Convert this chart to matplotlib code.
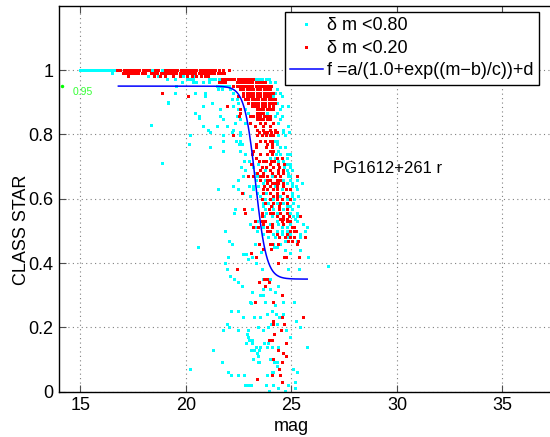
import numpy as np
import matplotlib
matplotlib.use('Agg')
import matplotlib.pyplot as plt

plt.rcParams['font.family'] = ['Liberation Sans', 'DejaVu Sans']

# rows of points (CLASS_STAR, [mag, ...])
# cyan = dm < 0.80 only; red = dm < 0.20 (also part of the cyan set)
cyan_rows = [
    (1.000, [15.0, 15.12, 15.24, 15.36, 15.48, 15.6, 15.72, 15.84, 15.96, 16.08,
             16.2, 16.32, 16.44, 16.56, 16.68, 18.4, 18.85]),
    (0.990, [16.51]),
    (0.980, [18.22, 18.66, 19.85, 20.43]),
    (0.972, [19.12, 19.48, 20.04, 20.2, 20.35, 21.1, 21.25, 21.4, 21.55, 23.3,
             23.45, 23.6, 23.8, 23.95]),
    (0.962, [19.83, 20.35, 20.5, 20.8, 21.1, 23.98, 24.22]),
    (0.950, [19.53, 21.46, 21.6, 21.75, 21.9, 22.05]),
    (0.940, [21.54, 21.7, 22.09, 24.3]),
    (0.930, [19.48, 20.43, 20.9, 22.25, 24.22, 24.46]),
    (0.920, [20.9, 24.14, 24.54]),
    (0.909, [22.17, 22.4]),
    (0.898, [19.17, 21.22, 22.48, 24.3]),
    (0.888, [20.82, 22.22, 24.54, 24.85]),
    (0.878, [21.62, 22.48, 22.8, 24.46]),
    (0.867, [20.43, 22.96, 23.83, 24.3]),
    (0.857, [20.64, 21.62, 22.4, 24.22, 24.54]),
    (0.847, [21.77, 22.56, 24.46]),
    (0.836, [22.33, 22.8, 24.38]),
    (0.826, [20.82, 21.46, 21.93, 24.85]),
    (0.813, [21.06, 22.25, 24.62]),
    (0.808, [21.14, 22.17, 22.56, 24.62, 24.9]),
    (0.798, [20.19, 21.77, 22.56, 24.38, 24.7]),
    (0.780, [21.77, 22.37, 22.56, 24.22, 24.33]),
    (0.770, [22.53, 22.64, 24.06, 24.33]),
    (0.760, [21.14, 24.46, 24.7]),
    (0.749, [21.77, 22.56, 23.16, 24.38]),
    (0.739, [22.8, 24.27, 24.46, 24.78, 24.93]),
    (0.728, [23.99, 24.22, 24.78]),
    (0.718, [22.75, 23.01, 24.38, 24.62]),
    (0.708, [23.43, 24.78, 24.93]),
    (0.697, [22.6, 23.2, 24.65, 24.93]),
    (0.689, [22.8, 23.75, 24.78, 25.01]),
    (0.679, [23.27, 24.85]),
    (0.669, [22.72, 23.35, 24.06, 24.85, 24.93]),
    (0.658, [22.48, 23.32, 23.75, 24.59, 24.93, 25.25]),
    (0.650, [23.64, 24.78, 25.01, 25.49]),
    (0.639, [22.25, 23.01, 23.2, 23.43, 24.22, 25.01, 25.22]),
    (0.629, [21.54, 22.45, 23.2, 24.54, 24.93, 25.25]),
    (0.619, [22.72, 23.35, 23.8, 25.01]),
    (0.608, [23.04, 23.51, 24.46, 24.78, 25.01, 25.33]),
    (0.598, [23.75, 24.14, 24.78, 25.12]),
    (0.588, [23.64, 23.91, 24.3, 24.62, 25.09]),
    (0.578, [23.67, 24.06, 24.78, 24.93, 25.33]),
    (0.567, [22.33, 23.12, 23.75, 24.14, 24.59, 25.01]),
    (0.557, [22.28, 23.8, 24.3, 24.93, 25.25]),
    (0.546, [23.7, 24.06, 25.09, 25.28]),
    (0.538, [25.17]),
    (0.532, [23.35, 24.3, 25.25]),
    (0.520, [23.04, 23.99, 24.38, 24.93, 25.57]),
    (0.511, [23.27, 23.67, 24.54, 24.78, 25.72]),
    (0.500, [21.85, 23.35, 24.3, 24.54, 24.78, 25.64]),
    (0.490, [23.67, 24.14, 24.54, 24.93, 25.41]),
    (0.480, [23.91, 24.22, 24.78, 25.41]),
    (0.469, [22.06, 24.7, 25.25]),
    (0.459, [22.17, 23.27, 24.14, 24.46, 25.25]),
]

red_rows = [
    (1.000, [16.75, 16.9, 17.05, 17.2, 17.35, 17.5, 17.65, 17.8, 17.95, 18.1, 18.25,
             18.55, 18.7, 19.0, 19.15, 19.3, 19.45, 19.6, 19.75, 19.9, 20.05, 20.2,
             20.35, 20.5, 20.65, 20.8, 20.95, 21.1, 21.25, 21.4, 21.55, 21.75, 22.05]),
    (0.990, [17.0, 17.15, 17.3, 17.45, 17.6, 17.75, 17.9, 18.05, 18.35, 18.5, 18.65,
             18.8, 18.95, 19.1, 19.25, 19.4, 19.55, 19.7, 19.85, 20.0, 20.15, 20.3,
             20.45, 20.6, 20.75, 20.9, 21.05, 21.2, 21.35, 21.5, 21.65, 21.8]),
    (0.980, [17.24, 18.49, 18.77, 19.01, 19.4, 19.72, 20.04, 20.3, 20.5, 20.7, 20.9, 21.05]),
    (0.972, [21.7, 21.85, 22.0, 22.15, 22.3, 22.45, 22.6, 22.75, 22.9, 23.05, 23.2]),
    (0.962, [21.55, 21.7, 21.85, 22.4, 22.55, 22.7, 22.85, 23.0, 23.15, 23.3, 23.45,
             23.6, 23.75]),
    (0.950, [22.25, 22.4, 22.55, 22.7, 22.85, 23.0, 23.15, 23.3, 23.45, 23.6, 23.75,
             23.9, 24.05]),
    (0.940, [22.56, 22.72, 22.88, 23.04, 23.2, 23.36, 23.52, 23.68, 23.84, 23.98]),
    (0.930, [18.85, 22.72, 22.88, 23.04, 23.2, 23.36, 23.52, 23.68, 23.84, 24.0, 24.14]),
    (0.920, [20.12, 22.48, 22.72, 22.88, 23.04, 23.2, 23.36, 23.52, 23.68, 23.84, 23.98]),
    (0.909, [22.8, 22.96, 23.12, 23.28, 23.44, 23.6, 23.76, 23.92, 24.08, 24.22]),
    (0.898, [22.96, 23.12, 23.28, 23.44, 23.6, 23.76, 23.92, 24.08, 24.22]),
    (0.888, [21.93, 23.12, 23.28, 23.44, 23.6, 23.76, 23.92, 24.14]),
    (0.878, [22.56, 23.35, 23.5, 23.66, 23.82, 23.98, 24.14]),
    (0.867, [22.56, 23.35, 23.5, 23.66]),
    (0.857, [22.53, 23.04, 23.2, 23.36, 23.52, 23.68, 23.84, 23.98]),
    (0.847, [23.35, 23.5, 23.66, 23.82, 23.98]),
    (0.836, [23.04, 23.51, 23.75, 24.11]),
    (0.826, [23.27, 23.67, 23.98]),
    (0.813, [23.35, 23.64, 23.98, 24.22]),
    (0.808, [23.48, 23.7, 23.83, 24.02, 24.21, 24.33]),
    (0.798, [22.22, 23.35, 23.59, 23.8, 23.99, 24.14]),
    (0.780, [23.51, 23.75, 23.98, 24.08]),
    (0.770, [23.32, 23.86, 24.1]),
    (0.760, [23.32, 23.8, 24.06]),
    (0.749, [23.2, 23.98, 24.14]),
    (0.739, [23.12, 23.51, 23.86, 24.06]),
    (0.728, [23.32, 24.33, 24.54]),
    (0.718, [23.48, 23.64, 23.8, 24.02, 24.18]),
    (0.708, [23.07, 23.98, 24.38, 24.65]),
    (0.697, [23.59, 23.8, 24.11, 24.43]),
    (0.689, [23.51, 23.98, 24.38, 24.59]),
    (0.679, [23.35, 23.64, 24.06, 24.38, 24.59]),
    (0.669, [22.96, 23.2, 23.51, 23.67, 23.86, 24.22, 24.46, 25.28]),
    (0.658, [23.51, 23.83, 23.99, 24.33, 24.46]),
    (0.650, [23.86, 24.06, 24.22, 24.38, 24.59]),
    (0.639, [23.7, 23.98, 24.33, 24.59]),
    (0.629, [23.64, 23.83, 24.14, 24.33, 24.74, 24.93]),
    (0.619, [22.64, 23.64, 23.98, 24.33, 24.62]),
    (0.608, [24.14, 24.33, 24.78]),
    (0.598, [23.59, 23.98, 24.33, 24.54, 24.93]),
    (0.588, [23.75, 24.14, 24.46, 24.78]),
    (0.578, [24.02, 24.43]),
    (0.567, [22.75, 23.95, 24.43, 24.78]),
    (0.557, [22.82, 23.59, 23.98, 24.14, 24.46, 24.78]),
    (0.546, [23.59, 24.33, 24.62, 24.9, 25.41]),
    (0.538, [24.46, 24.62, 24.78]),
    (0.532, [23.27, 23.59, 23.75, 24.54, 24.78, 24.93]),
    (0.520, [23.67, 24.06, 24.62]),
    (0.511, [23.2, 23.43, 23.86, 24.06, 25.01, 25.12]),
    (0.500, [23.83, 23.99, 24.93, 25.12, 25.22]),
    (0.490, [24.33, 24.78]),
    (0.480, [24.43, 24.7, 24.93, 25.12, 25.64]),
    (0.469, [24.85, 25.01, 25.33]),
    (0.459, [23.48, 23.99, 24.06, 24.38, 25.25]),
]

# scattered faint objects
low_cyan_mag = [19.14, 20.62, 18.35, 20.16, 18.88,
                20.59, 24.19, 24.3, 24.7, 25.41, 23.56, 22.72, 22.85, 24.93, 25.8, 21.99,
                23.12, 22.96, 21.85, 23.32, 26.75, 21.93, 22.41, 23.62, 24.82, 25.37, 22.09,
                22.29, 23.64, 23.99, 22.45, 22.64, 24.38, 23.67, 23.99, 24.24, 23.12, 23.51,
                23.64, 23.03, 23.75, 24.59, 25.12, 23.07, 24.22, 22.14, 22.45, 24.08, 23.86,
                24.27, 24.59, 22.72, 23.24, 23.51, 24.4, 25.2, 21.93, 24.04, 24.3, 22.06,
                23.43, 23.88, 25.41, 21.74, 22.45, 22.96, 23.64, 24.74, 22.91, 22.96, 24.93,
                22.98, 23.14, 24.0, 22.86, 23.14, 23.69, 23.91, 23.3, 23.51, 23.85, 24.06,
                24.38, 25.72, 21.3, 23.09, 23.24, 23.46, 23.35, 23.43, 23.19, 24.0, 21.73,
                23.43, 23.48, 24.19, 24.3, 24.33, 20.2, 25.09, 22.01, 24.08, 24.14, 25.28,
                22.14, 22.49, 22.77, 23.86, 25.18, 22.8, 22.96, 23.09, 23.78, 24.11, 24.82,
                24.38, 25.17, 23.92, 24.7]
low_cyan_cls = [0.90, 0.85, 0.83, 0.77, 0.71,
                0.449, 0.449, 0.449, 0.44, 0.44, 0.435, 0.429, 0.429, 0.43, 0.42, 0.418,
                0.418, 0.412, 0.401, 0.401, 0.39, 0.381, 0.381, 0.381, 0.381, 0.381, 0.361,
                0.35, 0.35, 0.35, 0.34, 0.33, 0.33, 0.32, 0.32, 0.31, 0.309, 0.30,
                0.30, 0.28, 0.28, 0.28, 0.28, 0.275, 0.27, 0.251, 0.251, 0.251, 0.241,
                0.241, 0.241, 0.231, 0.231, 0.231, 0.231, 0.221, 0.21, 0.21, 0.21, 0.202,
                0.202, 0.202, 0.202, 0.191, 0.191, 0.191, 0.191, 0.191, 0.18, 0.17, 0.17,
                0.16, 0.16, 0.16, 0.15, 0.15, 0.15, 0.15, 0.14, 0.14, 0.14, 0.14,
                0.14, 0.14, 0.13, 0.13, 0.13, 0.13, 0.12, 0.11, 0.101, 0.101, 0.091,
                0.091, 0.091, 0.091, 0.091, 0.08, 0.07, 0.07, 0.062, 0.062, 0.062, 0.062,
                0.052, 0.052, 0.052, 0.052, 0.031, 0.021, 0.021, 0.021, 0.021, 0.021, 0.021,
                0.012, 0.012, 0.003, 0.003]

low_red_mag = [24.02, 23.64, 23.09, 23.32, 24.66, 24.74, 25.37, 24.38, 22.43, 23.7,
               23.83, 23.48, 23.95, 23.75, 24.54, 23.28, 24.11, 24.14, 24.54, 25.57,
               24.11, 24.65, 24.49, 24.19, 23.94, 24.08, 24.74, 24.38, 24.59, 24.74,
               24.14, 24.55, 24.43, 24.07, 24.46, 23.38, 24.55]
low_red_cls = [0.443, 0.443, 0.43, 0.42, 0.42, 0.42, 0.42, 0.401, 0.381, 0.35,
               0.35, 0.34, 0.34, 0.33, 0.30, 0.278, 0.28, 0.221, 0.231, 0.231,
               0.21, 0.21, 0.191, 0.18, 0.161, 0.161, 0.15, 0.13, 0.121, 0.111,
               0.101, 0.091, 0.07, 0.052, 0.052, 0.04, 0.031]

# fit f = a/(1.0+exp((m-b)/c))+d
fit_a, fit_b, fit_c, fit_d = 0.60, 23.3, 0.26, 0.35
fit_range = (16.8, 25.75)
limit_value = 0.95


def flatten(rows):
    xs, ys = [], []
    for y, mags in rows:
        xs += mags
        ys += [y] * len(mags)
    return xs, ys


cx, cy = flatten(cyan_rows)
rx, ry = flatten(red_rows)
cx = cx + low_cyan_mag
cy = cy + low_cyan_cls
rx = rx + low_red_mag
ry = ry + low_red_cls

fig = plt.figure(figsize=(5.5, 4.37), dpi=100)
ax = fig.add_axes([0.1078, 0.1037, 0.9016, 0.8833])

ms = 2.16  # 3 px squares
h1, = ax.plot(cx + rx, cy + ry, 's', color=(0, 1, 1), ms=ms, mew=0,
              antialiased=False, label='δ m <0.80')
h2, = ax.plot(rx, ry, 's', color=(1, 0, 0), ms=ms, mew=0,
              antialiased=False, label='δ m <0.20')
m = np.linspace(fit_range[0], fit_range[1], 300)
f = fit_a / (1.0 + np.exp((m - fit_b) / fit_c)) + fit_d
h3, = ax.plot(m, f, '-', color=(0, 0, 1), lw=1.1,
              label='f =a/(1.0+exp((m\u2212b)/c))+d')

ax.plot([14.15], [limit_value], '.', color=(0, 1, 0), ms=3)
ax.text(14.63, 0.931, '%.2f' % limit_value, color=(0.2, 1, 0.2), fontsize=7.5,
        va='center', ha='left')
ax.text(26.97, 0.695, 'PG1612+261 r', fontsize=12, va='center', ha='left')

ax.set_xlim(14, 37.5)
ax.set_ylim(0, 1.2)
ax.set_xticks([15, 20, 25, 30, 35])
ax.set_yticks([0, 0.2, 0.4, 0.6, 0.8, 1.0])
ax.set_yticklabels(['0', '0.2', '0.4', '0.6', '0.8', '1'])
ax.tick_params(direction='in', top=True, right=False, length=5, labelsize=13,
               pad=4, color='0.3')
ax.grid(True, linestyle=(0, (1, 3)), color='0.5', lw=0.8)
ax.set_axisbelow(True)
ax.spines['right'].set_visible(False)
for s in ax.spines.values():
    s.set_linewidth(1.0)

ax.set_xlabel('mag', fontsize=13)
ax.set_ylabel('CLASS STAR', fontsize=13)
ax.xaxis.set_label_coords(0.467, -0.068)
ax.yaxis.set_label_coords(-0.06, 0.419)

leg = ax.legend(handles=[h1, h2, h3], loc='upper right',
                bbox_to_anchor=(539 / 550, 1 - 12 / 437),
                bbox_transform=fig.transFigure, fontsize=13, numpoints=1,
                fancybox=False, framealpha=1, edgecolor='black',
                handlelength=1.8, handletextpad=0.25, labelspacing=0.3,
                borderpad=0.3, borderaxespad=0)
leg.get_frame().set_linewidth(1.0)

fig.savefig('out.png', dpi=100)
